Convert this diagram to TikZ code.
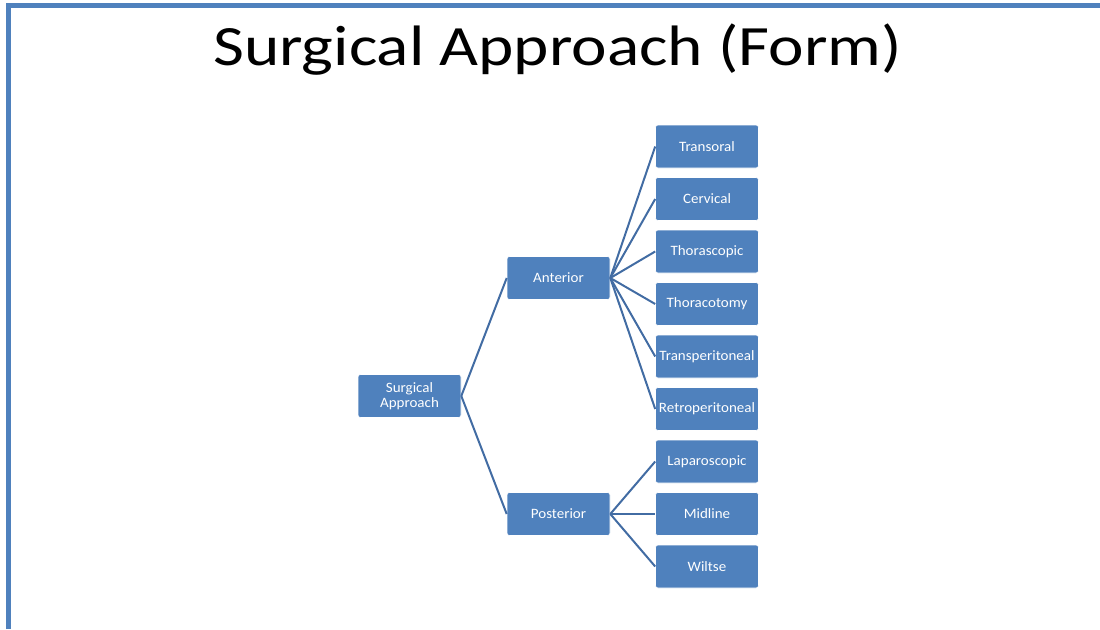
\documentclass[tikz,border=0pt]{standalone}
\usepackage{fontspec}
\setmainfont{Carlito}
\newfontfamily\titlefont[FakeStretch=1.18]{Carlito}
\newfontfamily\boxfont[FakeStretch=1.05]{Carlito}
\usepackage{tikz}
\usetikzlibrary{positioning}
\definecolor{cBox}{RGB}{79,129,189}
\definecolor{cLink}{RGB}{66,108,163}

\begin{document}
\begin{tikzpicture}[x=1pt,y=-1pt,
   box/.style={draw=white,line width=0.6pt,fill=cBox,rounded corners=2.5pt,minimum width=103pt,minimum height=43pt,inner sep=1pt,align=center,text=white,font=\boxfont\fontsize{14.3}{14.5}\selectfont},
   link/.style={draw=cLink,line width=2pt}]
  \useasboundingbox (0,0) rectangle (1100,629);
  % frame
  \draw[cBox,line width=5pt] (8.5,629) -- (8.5,5.5) -- (1100,5.5);
  \node[anchor=base,inner sep=0pt,font=\titlefont\fontsize{57}{60}\selectfont] (title) at (557.5,65) {Surgical Approach (Form)};
  % root and middle level
  \node[box] (root) at (409.5,396) {Surgical\\Approach};
  \node[box] (ant) at (558.5,278) {Anterior};
  \node[box] (post) at (558.5,514) {Posterior};
  % leaves
  \foreach \name/\txt [count=\i from 0] in {tor/Transoral,cer/Cervical,ths/Thorascopic,thc/Thoracotomy,tpe/Transperitoneal,rpe/Retroperitoneal,lap/Laparoscopic,mid/Midline,wil/Wiltse}
    \node[box] (\name) at (707,146.5+52.5*\i) {\txt};
  % links
  \draw[link] (root.east) -- (ant.west); \draw[link] (root.east) -- (post.west);
  \foreach \name in {tor,cer,ths,thc,tpe,rpe}
    \draw[link] (ant.east) -- (\name.west);
  \foreach \name in {lap,mid,wil}
    \draw[link] (post.east) -- (\name.west);
\end{tikzpicture}
\end{document}
